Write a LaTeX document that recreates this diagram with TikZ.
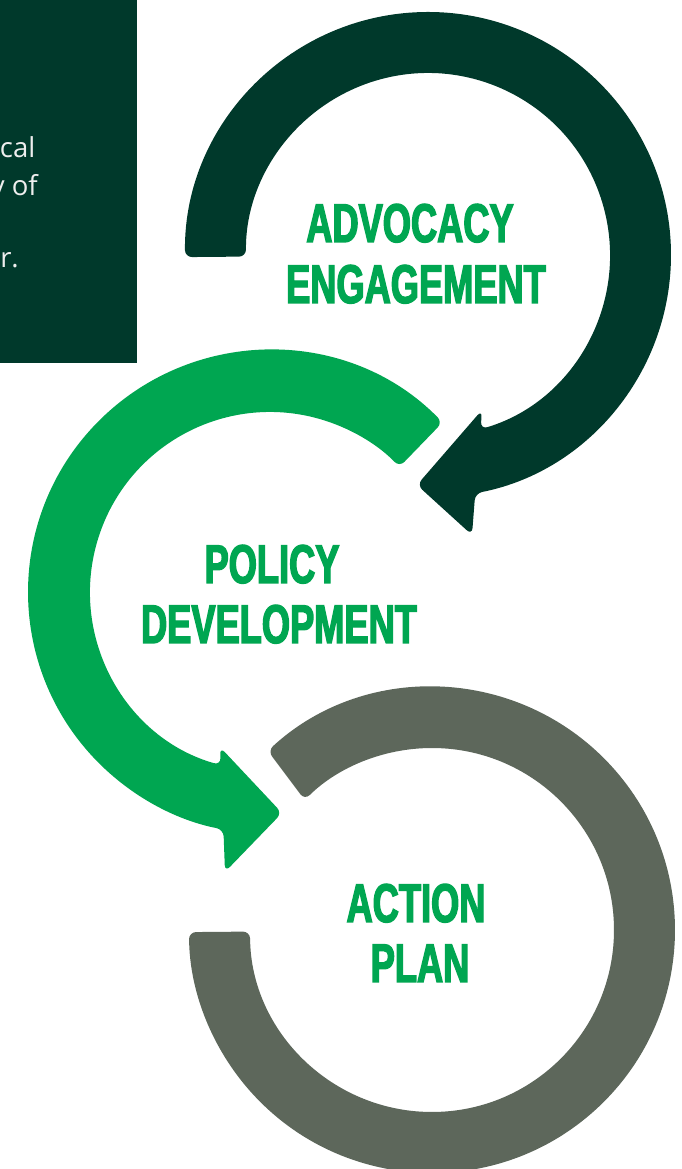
\documentclass[tikz,border=0pt]{standalone}
\usepackage{fontspec}
\newfontfamily\headfont{Liberation Sans}[FakeStretch=0.665,FakeBold=2.5]
\newfontfamily\bodyfont{Open Sans}
\definecolor{darkgreen}{HTML}{00392B}
\definecolor{brightgreen}{HTML}{00A651}
\definecolor{slategrey}{HTML}{5D675B}
\definecolor{lighttext}{HTML}{EEEEEE}
\tikzset{
  heading/.style={text=brightgreen, font=\headfont\bfseries\fontsize{54.5}{60}\selectfont, inner sep=0pt, anchor=base},
  bodytext/.style={text=lighttext, font=\bodyfont\fontsize{27.5}{33}\selectfont, inner sep=0pt, anchor=base east},
  ring/.style={rounded corners=7}
}
\begin{document}
\begin{tikzpicture}[x=1pt,y=1pt]
\useasboundingbox (0,0) rectangle (681,1169);
\fill[white] (0,0) rectangle (681,1169);

% top-left panel
\fill[darkgreen] (0,806) rectangle (137,1169);
\begin{scope}
  \clip (0,806) rectangle (137,1169);
  \node[bodytext] (t1) at (35.5,1011) {cal};
  \node[bodytext] (t2) at (38,973) {y of};
  \node[bodytext] (t3) at (19,901) {r.};
\end{scope}

\coordinate (cD) at (428,914);
\coordinate (cG) at (270,577);
\coordinate (cR) at (432,239);

% dark ring (advocacy)
\fill[darkgreen, ring] ([shift={(180.5:243)}]cD) arc[start angle=180.5, end angle=-78.8, radius=243]
  -- (472,634) -- (417,684) -- (482,759)
  -- ([shift={(-73.2:182)}]cD) arc[start angle=-73.2, end angle=180.5, radius=182] -- cycle;

% green ring (policy)
\fill[brightgreen, ring] ([shift={(44.5:242)}]cG) arc[start angle=44.5, end angle=258.9, radius=242]
  -- (225,297) -- (282,356) -- (220,422)
  -- ([shift={(254.1:180)}]cG) arc[start angle=254.1, end angle=44, radius=180] -- cycle;

% grey ring (action)
\fill[slategrey, ring] ([shift={(132.5:243)}]cR) arc[start angle=132.5, end angle=-179.5, radius=243]
  -- ([shift={(-179.5:182)}]cR) arc[start angle=-179.5, end angle=134.4, radius=182] -- cycle;

% headings
\node[heading] (h1) at (410,927) {ADVOCACY};
\node[heading] (h2) at (416,866) {ENGAGEMENT};
\node[heading] (h3) at (272,586) {POLICY};
\node[heading] (h4) at (279,526) {DEVELOPMENT};
\node[heading] (h5) at (416,247) {ACTION};
\node[heading] (h6) at (420,187) {PLAN};
\end{tikzpicture}
\end{document}
